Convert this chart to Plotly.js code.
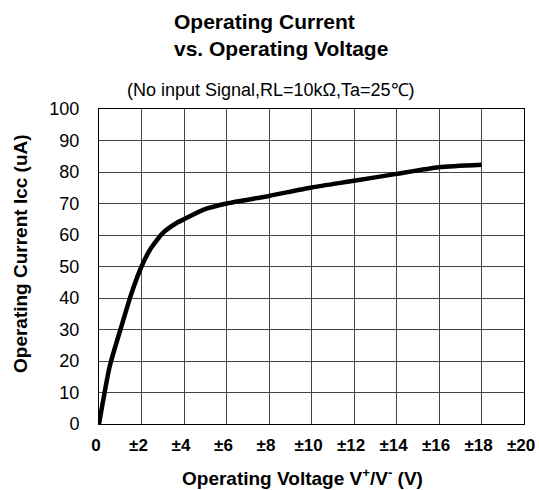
<!DOCTYPE html>
<html>
<head>
<meta charset="utf-8">
<script src="https://cdn.plot.ly/plotly-3.0.1.min.js"></script>
<style>html,body{margin:0;padding:0;background:#fff;}#chart{width:539px;height:490px;}</style>
</head>
<body>
<div id="chart"></div>
<script>
// Operating voltage (±V) and operating current Icc (uA)
const voltage = [0, 0.5, 1.05, 1.53, 2.0, 2.4, 3.0, 3.65, 4.0, 4.9, 6.0, 8.0, 10.0, 12.0, 14.0, 16.0, 18.0];
const current = [0, 18.2, 30.9, 41.5, 50.0, 55.3, 60.6, 63.8, 65.0, 68.0, 70.0, 72.4, 75.1, 77.2, 79.4, 81.5, 82.3];

const xTickVals = [0, 2, 4, 6, 8, 10, 12, 14, 16, 18, 20];
const xTickText = ['0', '±2', '±4', '±6', '±8', '±10', '±12', '±14', '±16', '±18', '±20'];
const yTickVals = [0, 10, 20, 30, 40, 50, 60, 70, 80, 90, 100];

const titleText = 'Operating Current<br>vs. Operating Voltage';
const subtitleText = '(No input Signal,RL=10kΩ,Ta=25℃)';
const xTitleText = 'Operating Voltage V<sup>+</sup>/V<sup>-</sup> (V)';
const yTitleText = 'Operating Current Icc (uA)';

const FONT = 'Liberation Sans, Arial, sans-serif';

const data = [{
  x: voltage, y: current, type: 'scatter', mode: 'lines',
  line: {color: '#000', width: 4.5, shape: 'spline', smoothing: 0.6},
  hoverinfo: 'skip'
}];

const L = 99, R = 15, T = 109, B = 66;
const plotW = 539 - L - R, plotH = 490 - T - B;
const px2x = p => (p - L) / plotW;
const py2y = p => (490 - B - p) / plotH;

const layout = {
  width: 539, height: 490,
  margin: {l: L, r: R, t: T, b: B},
  paper_bgcolor: '#fff', plot_bgcolor: '#fff',
  showlegend: false,
  font: {family: FONT, color: '#000'},
  xaxis: {
    range: [0, 20], tickvals: xTickVals, ticktext: xTickText,
    showgrid: true, gridcolor: '#444', gridwidth: 1,
    zeroline: false, showline: true, linecolor: '#000', linewidth: 1, mirror: true,
    ticks: 'outside', ticklen: 6, tickcolor: 'rgba(0,0,0,0)',
    tickfont: {family: FONT, size: 17, color: '#000', weight: 'bold'},
    ticklabelshift: -3, fixedrange: true
  },
  yaxis: {
    range: [0, 100], tickvals: yTickVals,
    showgrid: true, gridcolor: '#444', gridwidth: 1,
    zeroline: false, showline: true, linecolor: '#000', linewidth: 1, mirror: true,
    ticks: 'outside', ticklen: 15, tickcolor: 'rgba(0,0,0,0)',
    tickfont: {family: FONT, size: 18, color: '#000'},
    fixedrange: true
  },
  annotations: [
    {text: '<b>' + titleText + '</b>', xref: 'paper', yref: 'paper', x: px2x(172), xanchor: 'left', align: 'left',
     y: py2y(8), yanchor: 'top', showarrow: false, font: {family: FONT, size: 21, color: '#000'}},
    {text: subtitleText, xref: 'paper', yref: 'paper', x: px2x(271), xanchor: 'center', showarrow: false,
     y: py2y(90), yanchor: 'middle', font: {family: FONT, size: 18, color: '#000'}},
    {text: '<b>' + xTitleText + '</b>', xref: 'paper', yref: 'paper', x: px2x(302), xanchor: 'center', showarrow: false,
     y: py2y(477), yanchor: 'middle', font: {family: FONT, size: 19, color: '#000'}},
    {text: '<b>' + yTitleText + '</b>', xref: 'paper', yref: 'paper', x: px2x(20), xanchor: 'center', showarrow: false,
     y: py2y(254), yanchor: 'middle', textangle: -90, font: {family: FONT, size: 19, color: '#000'}}
  ]
};

Plotly.newPlot('chart', data, layout, {displayModeBar: false, staticPlot: true});
</script>
</body>
</html>
